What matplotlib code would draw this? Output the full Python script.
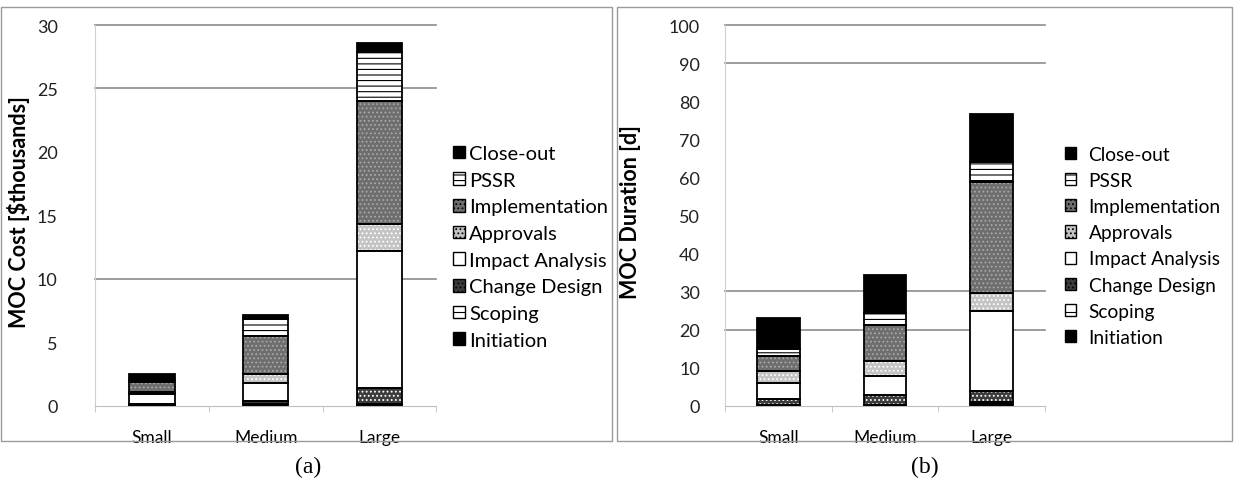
import numpy as np
import matplotlib
matplotlib.use('Agg')
import matplotlib.pyplot as plt
from matplotlib.patches import Patch, Rectangle

plt.rcParams['font.family'] = ['Lato', 'DejaVu Sans']
plt.rcParams['hatch.linewidth'] = 0.8

sizes = ['Small', 'Medium', 'Large']
phases = ['Initiation', 'Scoping', 'Change Design', 'Impact Analysis',
          'Approvals', 'Implementation', 'PSSR', 'Close-out']

# MOC cost [$thousands], one row per phase (bottom to top), cols = Small, Medium, Large
cost = {
    'Initiation':      [0.05, 0.10, 0.05],
    'Scoping':         [0.05, 0.05, 0.05],
    'Change Design':   [0.05, 0.20, 1.30],
    'Impact Analysis': [0.80, 1.45, 10.8],
    'Approvals':       [0.15, 0.70, 2.10],
    'Implementation':  [0.75, 3.00, 9.75],
    'PSSR':            [0.20, 1.30, 3.85],
    'Close-out':       [0.45, 0.35, 0.70],
}
# MOC duration [d]
duration = {
    'Initiation':      [0.2, 0.2, 0.8],
    'Scoping':         [0.1, 0.1, 0.1],
    'Change Design':   [1.4, 2.5, 2.9],
    'Impact Analysis': [4.2, 5.1, 21.2],
    'Approvals':       [3.1, 3.9, 4.6],
    'Implementation':  [4.1, 9.4, 29.1],
    'PSSR':            [1.8, 3.1, 5.2],
    'Close-out':       [8.1, 10.1, 12.7],
}

cost_ticks = [0, 5, 10, 15, 20, 25, 30]
dur_ticks = [0, 10, 20, 30, 40, 50, 60, 70, 80, 90, 100]
cost_grid = [10, 25, 30]
dur_grid = [20, 30, 90, 100]

# (face, hatch, hatch colour)
styles = {
    'Initiation':      ('black', None, None),
    'Scoping':         ('white', '--', 'black'),
    'Change Design':   ('#3c3c3c', '....', 'white'),
    'Impact Analysis': ('white', None, None),
    'Approvals':       ('#c4c4c4', '....', 'white'),
    'Implementation':  ('#6e6e6e', '....', '#a8a8a8'),
    'PSSR':            ('white', '---', 'black'),
    'Close-out':       ('black', None, None),
}

W, H = 1234, 489
fig = plt.figure(figsize=(12.34, 4.89), dpi=100)


def stacked(ax, data, ticks, grid, ylabel, ypad, label_x, legend_xy, lfs, ltp):
    x = np.arange(len(sizes))
    w = 0.4
    bottom = np.zeros(len(sizes))
    for g in grid:
        ax.axhline(g, color='#8c8c8c', lw=1.2, zorder=0, clip_on=False)
    for p in phases:
        v = np.array(data[p])
        face, hatch, hc = styles[p]
        ax.bar(x, v, w, bottom=bottom, color=face, lw=0, zorder=2)
        if hatch:
            ax.bar(x, v, w, bottom=bottom, color='none', edgecolor=hc,
                   hatch=hatch, lw=0, zorder=3)
        ax.bar(x, v, w, bottom=bottom, fill=False, edgecolor='black',
               lw=1.3, zorder=4)
        bottom += v
    ax.set_xlim(-0.5, len(sizes) - 0.5)
    ax.set_ylim(ticks[0], ticks[-1])
    ax.set_yticks(ticks)
    ax.set_xticks(x)
    ax.set_xticklabels(sizes, fontsize=12.5)
    ax.set_xticks(np.arange(len(sizes) + 1) - 0.5, minor=True)
    ax.tick_params(axis='x', which='major', length=0, pad=17)
    ax.tick_params(axis='x', which='minor', length=4, color='#bfbfbf', direction='out')
    ax.tick_params(axis='y', length=0, labelsize=13, pad=ypad, labelcolor='#222222')
    for s in ['top', 'right']:
        ax.spines[s].set_visible(False)
    ax.spines['left'].set_color('#d0d0d0')
    ax.spines['bottom'].set_color('#bfbfbf')
    ax.set_ylabel(ylabel, fontsize=15.5, fontweight='bold')
    ax.yaxis.set_label_coords(label_x / W, 1 - 212 / H, transform=fig.transFigure)

    handles = []
    for p in phases[::-1]:
        face, hatch, hc = styles[p]
        handles.append(Patch(facecolor=face, edgecolor='black', hatch=hatch, lw=1))
    fig.legend(handles, phases[::-1], loc='upper left', bbox_to_anchor=legend_xy,
               bbox_transform=fig.transFigure, frameon=False, fontsize=lfs,
               handlelength=0.6, handleheight=0.6, handletextpad=ltp,
               labelspacing=0.48, borderpad=0)


bot = 1 - 406.7 / H
hgt = (406.7 - 26) / H
ax_a = fig.add_axes([95.25 / W, bot, 341 / W, hgt])
ax_b = fig.add_axes([725 / W, bot, 320 / W, hgt])

stacked(ax_a, cost, cost_ticks, cost_grid, 'MOC Cost [$thousands]', 27, 30,
        (443 / W, 1 - 136 / H), 14.5, 0.2)
stacked(ax_b, duration, dur_ticks, dur_grid, 'MOC Duration [d]', 18, 641,
        (1055 / W, 1 - 137 / H), 13.8, 0.65)

# panel frames
fig.patches.append(Rectangle((1 / W, 1 - 442 / H), 611 / W, 434 / H, fill=False,
                             edgecolor='#9a9a9a', lw=1, transform=fig.transFigure))
fig.patches.append(Rectangle((617 / W, 1 - 442 / H), 615 / W, 434 / H, fill=False,
                             edgecolor='#9a9a9a', lw=1, transform=fig.transFigure))

fig.text(308 / W, 1 - 467 / H, '(a)', ha='center', va='center', fontsize=17,
         family='Liberation Serif')
fig.text(925 / W, 1 - 467 / H, '(b)', ha='center', va='center', fontsize=17,
         family='Liberation Serif')

fig.savefig('out.png', dpi=100)
